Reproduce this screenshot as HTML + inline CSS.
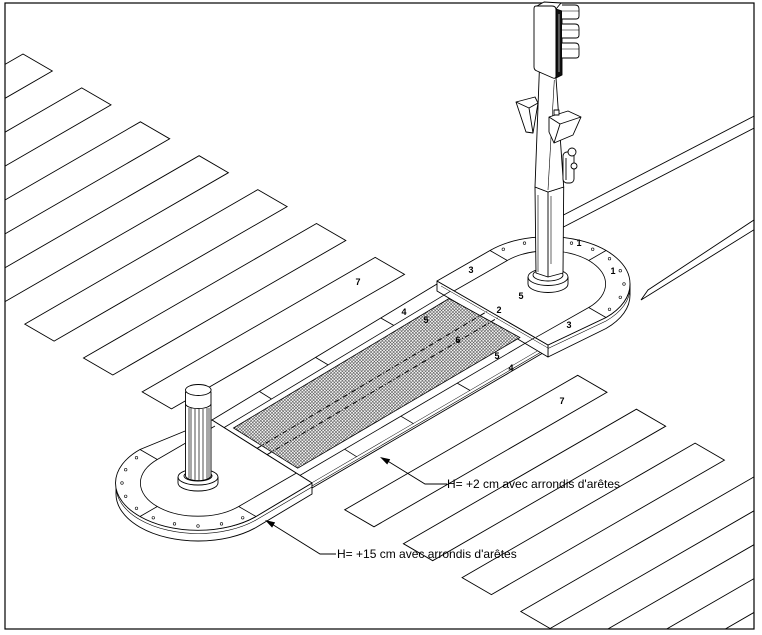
<!DOCTYPE html>
<html><head><meta charset="utf-8">
<style>
html,body{margin:0;padding:0;background:#fff;width:762px;height:635px;overflow:hidden;}
svg{display:block;}
text{font-family:"Liberation Sans",Arial,sans-serif;fill:#000;}
.n{font-size:9px;font-weight:bold;text-anchor:middle;}
.a{font-size:12px;}
</style></head>
<body>
<svg width="762" height="635" viewBox="0 0 762 635" xmlns="http://www.w3.org/2000/svg">
<defs>
<clipPath id="fr"><rect x="5" y="3" width="749" height="626"/></clipPath>
<pattern id="tac" width="3.2" height="3.2" patternUnits="userSpaceOnUse">
<rect width="3.2" height="3.2" fill="#fff"/>
<path d="M0,0 L3.2,3.2 M3.2,0 L0,3.2" stroke="#333" stroke-width="0.5"/>
</pattern>
</defs>
<rect x="0" y="0" width="762" height="635" fill="#fff"/>

<g clip-path="url(#fr)" fill="none" stroke="#000" stroke-width="0.9">
<polygon points="23,54 52.3,71 -180.7,205.5 -210,188.5"/>
<polygon points="81.7,87.9 111,104.9 -122,239.4 -151.3,222.4"/>
<polygon points="140.4,121.8 169.7,138.8 -63.3,273.3 -92.6,256.3"/>
<polygon points="199.1,155.7 228.4,172.7 -4.6,307.2 -33.9,290.2"/>
<polygon points="257.8,189.6 287.1,206.6 54.1,341.1 24.8,324.1"/>
<polygon points="316.5,223.5 345.8,240.5 112.8,375 83.5,358"/>
<polygon points="375.2,257.4 404.5,274.4 171.5,408.9 142.2,391.9"/>
<polygon points="577.7,375.3 607,392.3 374,526.8 344.7,509.8"/>
<polygon points="636.4,409.2 665.7,426.2 432.7,560.7 403.4,543.7"/>
<polygon points="695.1,443.1 724.4,460.1 491.4,594.6 462.1,577.6"/>
<polygon points="753.8,477 783.1,494 550.1,628.5 520.8,611.5"/>
<polygon points="812.5,510.9 841.8,527.9 608.8,662.4 579.5,645.4"/>
<polygon points="871.2,544.8 900.5,561.8 667.5,696.3 638.2,679.3"/>
<line x1="550" y1="222" x2="760" y2="113"/>
<line x1="550" y1="234" x2="760" y2="125"/>
<polygon points="641,300 648,290 760,216 760,226"/>
</g>
<rect x="5" y="3" width="749" height="626" fill="none" stroke="#000" stroke-width="1.2"/>

<text class="n" x="358" y="285">7</text>
<text class="n" x="562" y="404">7</text>

<g stroke="#000" stroke-width="0.9" fill="#fff" stroke-linejoin="round">
<path d="M116,483 A82,47 0 0 0 198,530 A82,47 0 0 0 256,516.5 L312,483 L312,494 L256,527.5 A82,47 0 0 1 198,541 A82,47 0 0 1 116,494 Z"/>
<path d="M116,486.5 A82,47 0 0 0 198,533.5 A82,47 0 0 0 256,520 L312,487" fill="none" stroke-width="0.6"/>
<polygon points="212,420 437,284 548,345 312,483"/>
<path d="M312,483 L312,488 L548,350 L548,345" />
<line x1="312" y1="486" x2="548" y2="348" stroke-width="0.6"/>
<path d="M212,420 L140,449.5 A82,47 0 0 0 140,516.5 A82,47 0 0 0 256,516.5 L312,483 Z"/>
<path d="M630,284 A82,47 0 0 1 606,317.5 L548,345 L548,357 L606,328.5 A82,47 0 0 0 630,295 Z"/>
<path d="M630,287.5 A82,47 0 0 1 606,321 L548,348.5" fill="none" stroke-width="0.6"/>
<polygon points="437,281 548,345 548,357 437,291"/>
<path d="M437,281 L490,250.5 A82,47 0 0 1 630,284 A82,47 0 0 1 606,317.5 L548,345 Z"/>
</g>

<polygon points="233.5,428 449.1,298.5 519.9,337.5 297.7,468.2" fill="url(#tac)" stroke="#000" stroke-width="0.8"/>
<g fill="none" stroke="#000">
<line x1="257" y1="448.4" x2="487" y2="311.5" stroke-width="1" stroke-dasharray="5,2,1,2"/>
<line x1="267" y1="454.7" x2="498" y2="317.6" stroke-width="1" stroke-dasharray="5,2,1,2"/>
<line x1="224" y1="427.6" x2="450.3" y2="291.3" stroke-width="0.8"/>
<line x1="300" y1="475.4" x2="534.7" y2="337.7" stroke-width="0.8"/>
<g stroke-width="0.8">
<line x1="259.3" y1="391.4" x2="271.5" y2="399"/>
<line x1="315.5" y1="357.4" x2="328.1" y2="364.9"/>
<line x1="380.8" y1="318" x2="393.7" y2="325.4"/>
<line x1="344.6" y1="449.2" x2="356.8" y2="456.8"/>
<line x1="400.9" y1="416.2" x2="413.5" y2="423.7"/>
<line x1="457.2" y1="383.1" x2="470.1" y2="390.5"/>
<path d="M296.5,473 L238.7,506.5 A57.6,33.2 0 0 1 157.3,506.5 A57.6,33.2 0 0 1 157.3,459.5 L215,426"/>
<line x1="157.3" y1="459.5" x2="140" y2="449.5"/>
<line x1="157.3" y1="506.5" x2="140" y2="516.5"/>
<line x1="238.7" y1="506.5" x2="256" y2="516.5"/>
<path d="M454,291 L507.3,260.5 A57.6,33.2 0 0 1 605.6,284 A57.6,33.2 0 0 1 588.7,307.5 L536,337.3"/>
<line x1="507.3" y1="260.5" x2="490" y2="250.5"/>
<line x1="588.7" y1="260.5" x2="606" y2="250.5"/>
<line x1="588.7" y1="307.5" x2="606" y2="317.5"/>
<line x1="441" y1="286" x2="548" y2="348" stroke-width="0.5"/>
</g>
</g>
<g fill="#fff" stroke="#000" stroke-width="0.6">
<circle cx="136.5" cy="457.7" r="1.3"/><circle cx="125.7" cy="469.7" r="1.3"/><circle cx="122" cy="483" r="1.3"/>
<circle cx="125.7" cy="496.3" r="1.3"/><circle cx="136.5" cy="508.3" r="1.3"/><circle cx="153.3" cy="517.8" r="1.3"/>
<circle cx="174.5" cy="523.9" r="1.3"/><circle cx="198" cy="526" r="1.3"/><circle cx="221.5" cy="523.9" r="1.3"/>
<circle cx="242.7" cy="517.8" r="1.3"/>
<circle cx="503.3" cy="249.2" r="1.3"/><circle cx="524.5" cy="243.1" r="1.3"/><circle cx="571.5" cy="243.1" r="1.3"/>
<circle cx="592.7" cy="249.2" r="1.3"/><circle cx="609.5" cy="258.7" r="1.3"/><circle cx="620.3" cy="270.7" r="1.3"/>
<circle cx="624" cy="284" r="1.3"/><circle cx="620.3" cy="297.3" r="1.3"/><circle cx="609.5" cy="309.3" r="1.3"/>
</g>

<text class="n" x="404" y="315">4</text>
<text class="n" x="426" y="323">5</text>
<text class="n" x="458" y="343">6</text>
<text class="n" x="497" y="359">5</text>
<text class="n" x="511" y="371">4</text>
<text class="n" x="471" y="273">3</text>
<text class="n" x="521" y="299">5</text>
<text class="n" x="499" y="313">2</text>
<text class="n" x="569" y="328">3</text>
<text class="n" x="579" y="246">1</text>
<text class="n" x="613" y="274">1</text>

<g stroke="#000" stroke-width="0.9" fill="#fff">
<path d="M178,477 L178,483 A20,8 0 0 0 218,483 L218,477"/>
<ellipse cx="198" cy="477" rx="20" ry="8"/>
<ellipse cx="198" cy="476" rx="14" ry="5"/>
<path d="M185.5,392 L185.5,476 A12.8,5 0 0 0 211,476 L211,392 Z"/>
<path d="M185.5,404 A12.8,5 0 0 0 211,404" fill="none"/>
<ellipse cx="198.3" cy="390" rx="12.8" ry="5.5"/>
<g stroke-width="0.7">
<line x1="189" y1="408" x2="189" y2="478"/><line x1="191" y1="408" x2="191" y2="479"/>
<line x1="195" y1="409" x2="195" y2="480"/><line x1="199" y1="409" x2="199" y2="480"/>
<line x1="203" y1="409" x2="203" y2="480"/><line x1="207" y1="408" x2="207" y2="479"/>
<line x1="209" y1="408" x2="209" y2="478"/>
</g>
</g>

<g stroke="#000" stroke-width="0.9" fill="#fff" stroke-linejoin="round">
<path d="M528,277 L528,284 A20,8.5 0 0 0 568,284 L568,277"/>
<ellipse cx="548" cy="277" rx="20" ry="8.5"/>
<ellipse cx="548" cy="275" rx="15" ry="6"/>
<polygon points="535,187 548,192 563.7,187 563,273 548,277 536,273"/>
<line x1="548" y1="192" x2="548" y2="277"/>
<line x1="538" y1="195" x2="538" y2="272" stroke-width="0.6"/>
<line x1="551" y1="196" x2="551" y2="264" stroke-width="0.6"/>
<polygon points="539.3,72 556,78 563.7,187 548,192 535,187"/>
<line x1="554.3" y1="80" x2="548" y2="190" stroke-width="0.6"/>
<polygon points="516,102 535,97 538,103 533,133 526,132"/>
<polyline points="516,102 529,108 533,133" fill="none"/>
<line x1="529" y1="108" x2="538" y2="103"/>
<polygon points="549,117 568,111 581,117 573,135 554,143 549,132"/>
<polyline points="549,117 560,124 581,117" fill="none"/>
<polyline points="560,124 554,143" fill="none"/>
<rect x="554" y="110" width="5" height="5"/>
<rect x="563" y="152" width="11" height="31" rx="4"/>
<circle cx="572" cy="152" r="4"/>
<circle cx="574" cy="166" r="3"/>
<line x1="566" y1="158" x2="566" y2="180"/>
<polygon points="537,6 544,2 561,3 556,9"/>
<path d="M536,6 L552,6 Q556,6 556,10 L556,76 Q556,79 553,78 L537,71 Q534,70 534,67 L534,9 Q534,6 536,6 Z"/>
<polygon points="556,9 562,11 562,75 556,78" fill="#111"/>
<line x1="559" y1="14" x2="559" y2="72" stroke="#fff" stroke-width="0.6"/>
<path d="M562,5 L575,5 Q579,5 579,9 L579,16 Q579,19 576,19 L562,19"/>
<line x1="562" y1="11" x2="579" y2="11" stroke-width="0.6"/>
<path d="M562,24 L575,24 Q579,24 579,28 L579,35 Q579,38 576,38 L562,38"/>
<line x1="562" y1="30" x2="579" y2="30" stroke-width="0.6"/>
<path d="M562,43 L575,43 Q579,43 579,47 L579,55 Q579,58 576,58 L562,58"/>
<line x1="562" y1="49" x2="579" y2="49" stroke-width="0.6"/>
</g>

<g stroke="#000" stroke-width="0.9" fill="none">
<polyline points="386,460 425,484 447,484"/>
<polyline points="271,523.5 320,554 336,554"/>
</g>
<polygon points="380,457 387.2,464.5 390.2,459.3" fill="#000"/>
<polygon points="265,520 272.1,527.6 275.1,522.4" fill="#000"/>
<text class="a" x="447" y="488">H= +2 cm avec arrondis d'arêtes</text>
<text class="a" x="337" y="558">H= +15 cm avec arrondis d'arêtes</text>
</svg>
</body></html>
